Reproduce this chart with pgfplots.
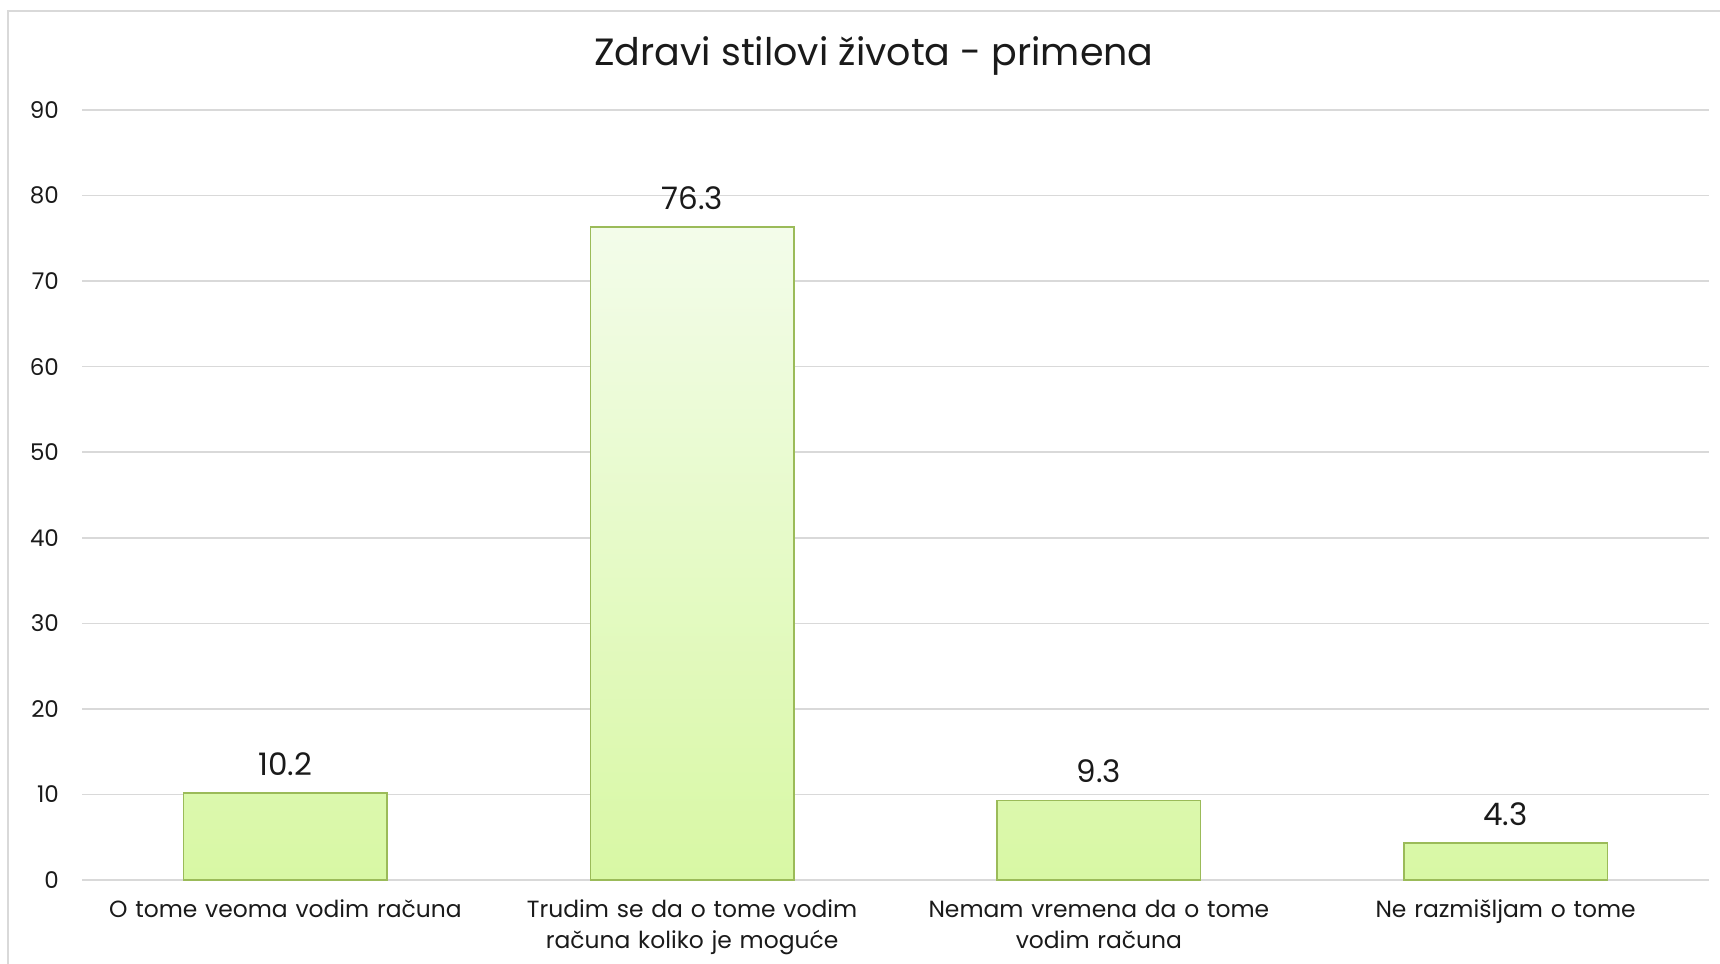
\documentclass[border=0pt]{standalone}
\usepackage{fontspec}
\setmainfont{Poppins}
\usepackage{pgfplots}
\pgfplotsset{compat=1.18}
\definecolor{gridc}{HTML}{D9D9D9}
\definecolor{baredge}{HTML}{9BBB59}
\definecolor{bartop}{HTML}{F3FCEA}
\definecolor{barbot}{HTML}{D8F8A4}
\definecolor{txt}{HTML}{1A1A1A}
\begin{document}
\begin{tikzpicture}[x=1pt,y=1pt]
\useasboundingbox (0,0) rectangle (860,482);
\draw[gridc, line width=1pt] (4,-10) -- (4,476.5) -- (870,476.5);
\node[font=\fontsize{19}{22}\selectfont, text=txt] at (437,454) {Zdravi stilovi života - primena};
\begin{axis}[
  at={(41pt,42pt)}, anchor=south west,
  scale only axis, width=813.5pt, height=385pt,
  xmin=-0.5, xmax=3.5, ymin=0, ymax=90,
  ytick={0,10,...,90},
  xtick={0,1,2,3},
  xticklabels={O tome veoma vodim računa, Trudim se da o tome vodim\\računa koliko je moguće, Nemam vremena da o tome\\vodim računa, Ne razmišljam o tome},
  axis line style={draw=none},
  major tick length=0pt,
  ymajorgrids, grid style={gridc, line width=0.8pt},
  yticklabel style={font=\fontsize{11.5}{13}\selectfont, text=txt, xshift=-8pt},
  xticklabel style={font=\fontsize{11.7}{15.5}\selectfont, text=txt, align=center, text width=190pt, anchor=north, yshift=-6.5pt},
  /pgf/number format/assume math mode=true,
  ybar, bar width=0.5,
  nodes near coords,
  nodes near coords style={font=\fontsize{15.5}{17}\selectfont, text=txt, yshift=5pt},
  point meta=explicit symbolic,
  clip=false,
]
\addplot[draw=baredge, line width=0.8pt, top color=bartop, bottom color=barbot]
  table[meta=lab] {
x y lab
0 10.2 10.2
1 76.3 76.3
2 9.3 9.3
3 4.3 4.3
};
\end{axis}
\end{tikzpicture}
\end{document}
